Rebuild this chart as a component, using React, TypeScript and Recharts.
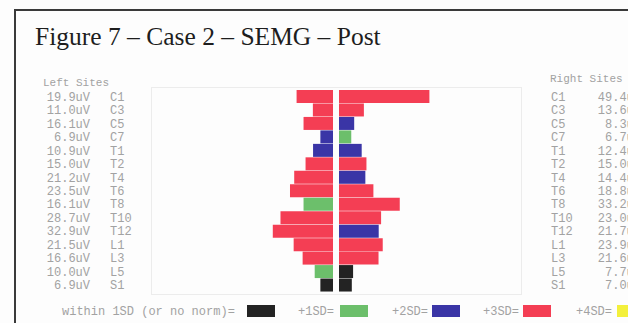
import React from 'react';
import { BarChart, Bar, XAxis, YAxis, Cell } from 'recharts';

// sEMG amplitude per spinal site, left and right paraspinals (uV)
const sites = ['C1', 'C3', 'C5', 'C7', 'T1', 'T2', 'T4', 'T6', 'T8', 'T10', 'T12', 'L1', 'L3', 'L5', 'S1'];
const leftValues = [19.9, 11.0, 16.1, 6.9, 10.9, 15.0, 21.2, 23.5, 16.1, 28.7, 32.9, 21.5, 16.6, 10.0, 6.9];
const rightValues = [49.4, 13.6, 8.3, 6.7, 12.4, 15.0, 14.4, 18.8, 33.2, 23.0, 21.7, 23.9, 21.6, 7.7, 7.0];

// deviation from norm: 0 = within 1SD, 1 = +1SD, 2 = +2SD, 3 = +3SD
const leftLevels = [3, 3, 3, 2, 2, 3, 3, 3, 1, 3, 3, 3, 3, 1, 0];
const rightLevels = [3, 3, 2, 1, 2, 3, 2, 3, 3, 3, 2, 3, 3, 0, 0];

const legendLabels = ['within 1SD (or no norm)=', '+1SD=', '+2SD=', '+3SD=', '+4SD='];
const levelColors = ['#232323', '#6cbf6b', '#3a35a6', '#f43e54', '#f3f03c'];

const data = sites.map((site, i) => ({ site, left: leftValues[i], right: rightValues[i] }));

const mono = '"Liberation Mono", "DejaVu Sans Mono", monospace';
const labelGray = '#a2a2a2';
const ROW_TOP = 90;
const ROW_H = 202;

const fmt = (v: number) => `${v.toFixed(1)}uV`;

const LeftTick = (props: any) => {
  const { y, payload, index } = props;
  return (
    <g fontFamily={mono} fontSize={12} fill={labelGray}>
      <text x={90} y={y} dy={4} textAnchor="end">{fmt(leftValues[index])}</text>
      <text x={110} y={y} dy={4}>{payload.value}</text>
    </g>
  );
};

const RightTick = (props: any) => {
  const { y, payload, index } = props;
  return (
    <g fontFamily={mono} fontSize={12} fill={labelGray}>
      <text x={212} y={y} dy={4}>{payload.value}</text>
      <text x={302} y={y} dy={4} textAnchor="end">{fmt(rightValues[index])}</text>
    </g>
  );
};

const legendItems = [
  { text: 62, box: 247 },
  { text: 298, box: 340 },
  { text: 392, box: 432 },
  { text: 483, box: 523 },
  { text: 576, box: 617 },
];

export default function App() {
  return (
    <div
      style={{
        position: 'absolute',
        left: 0,
        top: 0,
        width: 628,
        height: 323,
        overflow: 'hidden',
        background: '#fdfdfd',
      }}
    >
      {/* page frame */}
      <div
        style={{
          position: 'absolute',
          left: 14,
          top: 9,
          width: 640,
          height: 340,
          borderLeft: '2px solid #3a3a3a',
          borderTop: '2px solid #3a3a3a',
        }}
      />
      <div
        style={{
          position: 'absolute',
          left: 35,
          top: 24,
          fontFamily: '"Liberation Serif", "Times New Roman", serif',
          fontSize: 25.5,
          lineHeight: 1,
          color: '#1e1e1e',
          whiteSpace: 'nowrap',
        }}
      >
        Figure 7 – Case 2 – SEMG – Post
      </div>

      <div style={{ position: 'absolute', left: 43, top: 77, fontFamily: mono, fontSize: 11, color: labelGray }}>
        Left Sites
      </div>
      <div style={{ position: 'absolute', left: 550, top: 73, fontFamily: mono, fontSize: 11, color: labelGray, whiteSpace: 'nowrap' }}>
        Right Sites
      </div>

      {/* faint plot frame */}
      <div
        style={{
          position: 'absolute',
          left: 151,
          top: 87,
          width: 369,
          height: 206,
          border: '1px solid #ececec',
        }}
      />

      <div style={{ position: 'absolute', left: 0, top: ROW_TOP }}>
        <BarChart
          width={333}
          height={ROW_H}
          data={data}
          layout="vertical"
          barCategoryGap={0}
          margin={{ top: 0, right: 0, bottom: 0, left: 0 }}
        >
          <XAxis type="number" domain={[0, 100]} reversed hide />
          <YAxis
            type="category"
            dataKey="site"
            width={150}
            axisLine={false}
            tickLine={false}
            interval={0}
            tick={<LeftTick />}
          />
          <Bar dataKey="left" isAnimationActive={false}>
            {leftLevels.map((lvl, i) => (
              <Cell key={i} fill={levelColors[lvl]} />
            ))}
          </Bar>
        </BarChart>
      </div>

      <div style={{ position: 'absolute', left: 339, top: ROW_TOP }}>
        <BarChart
          width={310}
          height={ROW_H}
          data={data}
          layout="vertical"
          barCategoryGap={0}
          margin={{ top: 0, right: 0, bottom: 0, left: 0 }}
        >
          <XAxis type="number" domain={[0, 100]} hide />
          <YAxis
            type="category"
            dataKey="site"
            orientation="right"
            width={127}
            axisLine={false}
            tickLine={false}
            interval={0}
            tick={<RightTick />}
          />
          <Bar dataKey="right" isAnimationActive={false}>
            {rightLevels.map((lvl, i) => (
              <Cell key={i} fill={levelColors[lvl]} />
            ))}
          </Bar>
        </BarChart>
      </div>

      {/* colour key */}
      {legendItems.map((item, i) => (
        <React.Fragment key={i}>
          <div
            style={{
              position: 'absolute',
              left: item.text,
              top: 305,
              fontFamily: mono,
              fontSize: 12,
              color: labelGray,
              whiteSpace: 'nowrap',
            }}
          >
            {legendLabels[i]}
          </div>
          <div
            style={{
              position: 'absolute',
              left: item.box,
              top: 305,
              width: 28,
              height: 12,
              background: levelColors[i],
            }}
          />
        </React.Fragment>
      ))}
    </div>
  );
}
